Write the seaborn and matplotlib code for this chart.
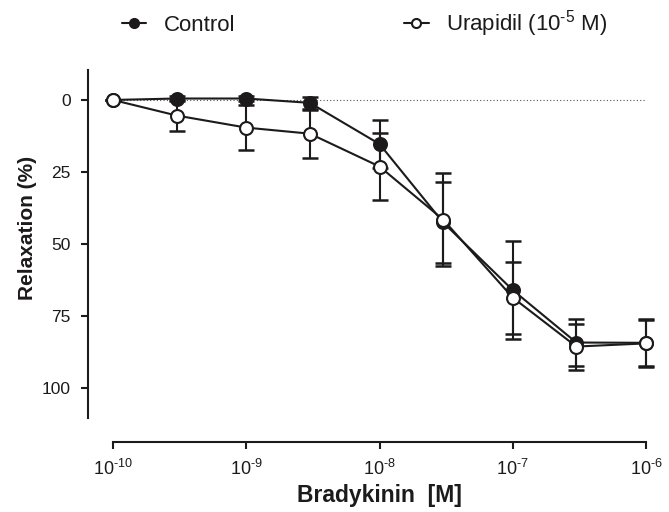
import numpy as np
import pandas as pd
import matplotlib
matplotlib.use("Agg")
import matplotlib.pyplot as plt
import seaborn as sns
from matplotlib.lines import Line2D
from matplotlib.ticker import FixedLocator, NullLocator

# ---- data ----
concentration = [1e-10, 3e-10, 1e-9, 3e-9, 1e-8, 3e-8, 1e-7, 3e-7, 1e-6]
control_mean = [0.0, -0.5, -0.5, 1.0, 15.3, 42.5, 66.0, 84.2, 84.3]
control_sem = [0.0, 1.0, 1.0, 2.0, 8.4, 14.0, 17.0, 8.0, 8.0]
urapidil_mean = [0.0, 5.4, 9.6, 11.7, 23.1, 41.5, 68.6, 85.6, 84.5]
urapidil_sem = [0.0, 5.4, 7.8, 8.3, 11.6, 16.3, 12.5, 8.0, 8.3]
series_labels = ["Control", r"Urapidil (10$^{\text{-5}}$ M)"]
x_tick_values = [1e-10, 1e-9, 1e-8, 1e-7, 1e-6]
x_tick_exponents = ["-10", "-9", "-8", "-7", "-6"]
y_tick_values = [0, 25, 50, 75, 100]

INK = "#1c1a1b"

sns.set_theme(style="ticks")
plt.rcParams["font.family"] = ["Liberation Sans", "DejaVu Sans"]
plt.rcParams["mathtext.fontset"] = "custom"
plt.rcParams["mathtext.rm"] = "Liberation Sans"
plt.rcParams["mathtext.it"] = "Liberation Sans:italic"
plt.rcParams["mathtext.bf"] = "Liberation Sans:bold"

fig = plt.figure(figsize=(6.69, 5.12), dpi=100)
ax = fig.add_axes([113 / 669, 1 - 418 / 512, (646 - 113) / 669, (418 - 70) / 512])

df_c = pd.DataFrame({"conc": concentration, "mean": control_mean, "sem": control_sem})
df_u = pd.DataFrame({"conc": concentration, "mean": urapidil_mean, "sem": urapidil_sem})

ax.axhline(0, ls=(0, (1, 2)), color="#555555", lw=0.8, zorder=1)

# Control
ax.errorbar(df_c["conc"], df_c["mean"], yerr=df_c["sem"], fmt="none", ecolor=INK,
            elinewidth=1.5, capsize=5.6, capthick=1.8, clip_on=False, zorder=2)
sns.lineplot(data=df_c, x="conc", y="mean", ax=ax, color=INK, lw=1.5, marker="o",
             markersize=9.3, markerfacecolor=INK, markeredgecolor=INK,
             markeredgewidth=1.5, clip_on=False, zorder=3)
# Urapidil
ax.errorbar(df_u["conc"], df_u["mean"], yerr=df_u["sem"], fmt="none", ecolor=INK,
            elinewidth=1.5, capsize=5.6, capthick=1.8, clip_on=False, zorder=4)
sns.lineplot(data=df_u, x="conc", y="mean", ax=ax, color=INK, lw=1.5, marker="o",
             markersize=9.3, markerfacecolor="white", markeredgecolor=INK,
             markeredgewidth=1.5, clip_on=False, zorder=5)

ax.set_xscale("log")
ax.set_xlim(1e-10, 1e-6)
ax.set_ylim(110.4, -10.4)
ax.xaxis.set_major_locator(FixedLocator(x_tick_values))
ax.xaxis.set_minor_locator(NullLocator())
ax.set_xticklabels([r"10$^{\text{%s}}$" % e for e in x_tick_exponents])
ax.set_yticks(y_tick_values)
ax.set_yticklabels([str(v) for v in y_tick_values])

for s in ["top", "right"]:
    ax.spines[s].set_visible(False)
ax.spines["left"].set_position(("outward", 18))
ax.spines["bottom"].set_position(("outward", 17.3))
for s in ["left", "bottom"]:
    ax.spines[s].set_linewidth(1.5)
    ax.spines[s].set_color(INK)
ax.tick_params(axis="y", length=4.8, width=1.5, color=INK, labelsize=12.5, pad=7.5,
               labelcolor=INK)
ax.tick_params(axis="x", length=5, width=1.5, color=INK, labelsize=13, pad=7.5,
               labelcolor=INK)

ax.set_xlabel("Bradykinin  [M]", fontsize=16.5, fontweight="bold", color=INK)
ax.set_ylabel("Relaxation (%)", fontsize=15, fontweight="bold", color=INK)
ax.xaxis.set_label_coords(0.5, -0.19)
ax.yaxis.set_label_coords(-0.143, 0.546)

handles = [
    Line2D([], [], color=INK, lw=1.5, marker="o", markersize=6.5,
           markerfacecolor=INK, markeredgecolor=INK, markeredgewidth=1.5),
    Line2D([], [], color=INK, lw=1.5, marker="o", markersize=6.5,
           markerfacecolor="white", markeredgecolor=INK, markeredgewidth=1.5),
]
fig.legend(handles, series_labels, loc="center", bbox_to_anchor=(0.545, 1 - 24 / 512),
           ncol=2, frameon=False, fontsize=16, handlelength=1.1, handletextpad=0.8,
           columnspacing=7.6, labelcolor=INK)

fig.savefig("out.png", dpi=100)
